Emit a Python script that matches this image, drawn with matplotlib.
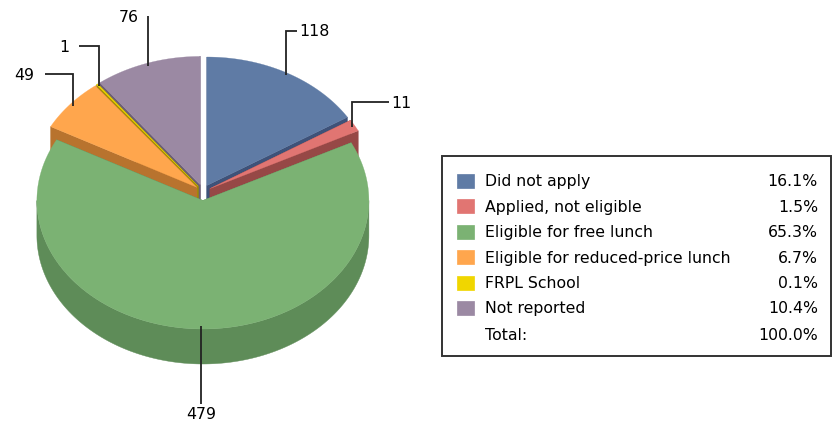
import numpy as np
import matplotlib
matplotlib.use("Agg")
import matplotlib.pyplot as plt
from matplotlib.patches import Polygon, Rectangle

# ---------------- data ----------------
categories = ["Did not apply", "Applied, not eligible", "Eligible for free lunch",
              "Eligible for reduced-price lunch", "FRPL School", "Not reported"]
values = [118, 11, 479, 49, 1, 76]
top_colors = ["#5F7BA5", "#E17572", "#7BB273", "#FFA64D", "#F0D600", "#9B89A3"]
side_colors = ["#3E5279", "#964846", "#5E8C58", "#B8732E", "#9E8D00", "#6C5E74"]

# ---------------- layout ----------------
W, H = 834, 427
CX, CY, RX, RY, DEPTH, EXPLODE = 203.0, 193.5, 166.0, 128.5, 35.0, 8.0
FONT = "DejaVu Sans"
FS = 11.3
LINE_C = "#222222"

# label layout: elbow y, horizontal length, side (+1 right, -1 left, 0 below)
label_elbow_y = [32, 103, 405, 75, 47, 17]
label_hlen = [11, 37, 0, 28, 20, 0]
label_side = [1, 1, 0, -1, -1, -1]

fig = plt.figure(figsize=(W / 100, H / 100), dpi=100)
ax = fig.add_axes([0, 0, 1, 1])
ax.set_xlim(0, W)
ax.set_ylim(H, 0)
ax.axis("off")

total = float(sum(values))
fr = np.array(values) / total
edges = np.concatenate([[0.0], np.cumsum(fr)]) * 2 * np.pi


def arc(cx, cy, t1, t2, dz=0.0, r=1.0):
    n = max(2, int(abs(t2 - t1) / (2 * np.pi) * 400) + 2)
    t = np.linspace(t1, t2, n)
    return np.column_stack([cx + r * RX * np.sin(t), cy - r * RY * np.cos(t) + dz])


def offset(i):
    m = (edges[i] + edges[i + 1]) / 2
    return CX + EXPLODE * np.sin(m), CY - EXPLODE * np.cos(m), m


order = sorted(range(len(values)), key=lambda i: -np.cos((edges[i] + edges[i + 1]) / 2))
z = 1
for i in order:
    t1, t2 = edges[i], edges[i + 1]
    cx, cy, m = offset(i)
    sc, tc = side_colors[i], top_colors[i]
    # radial walls
    for a in (t1, t2):
        px, py = cx + RX * np.sin(a), cy - RY * np.cos(a)
        ax.add_patch(Polygon([(cx, cy), (px, py), (px, py + DEPTH), (cx, cy + DEPTH)],
                             closed=True, facecolor=sc, edgecolor=sc, lw=0.3, zorder=z))
    # outer wall (front half only)
    lo, hi = max(t1, np.pi / 2), min(t2, 3 * np.pi / 2)
    if hi > lo:
        top = arc(cx, cy, lo, hi)
        bot = arc(cx, cy, lo, hi, DEPTH)[::-1]
        ax.add_patch(Polygon(np.vstack([top, bot]), closed=True, facecolor=sc,
                             edgecolor=sc, lw=0.3, zorder=z))
    # top surface
    pts = np.vstack([[cx, cy], arc(cx, cy, t1, t2)])
    ax.add_patch(Polygon(pts, closed=True, facecolor=tc, edgecolor=tc, lw=0.2, zorder=z + 0.5))
    z += 1

# ---------------- leader lines & labels ----------------
for i, v in enumerate(values):
    cx, cy, m = offset(i)
    r = 0.98
    axp = cx + r * RX * np.sin(m)
    ayp = cy - r * RY * np.cos(m)
    ey = label_elbow_y[i]
    side = label_side[i]
    if side == 0:
        ax.plot([axp, axp], [ayp, ey], color=LINE_C, lw=1.3, zorder=50, solid_capstyle="butt")
        ax.text(axp, ey + 2, str(v), ha="center", va="top", fontsize=FS, family=FONT, zorder=51)
    else:
        ex = axp + side * label_hlen[i]
        ax.plot([axp, axp, ex], [ayp, ey, ey], color=LINE_C, lw=1.3, zorder=50,
                solid_joinstyle="miter", solid_capstyle="butt")
        if side > 0:
            ax.text(ex + 3, ey, str(v), ha="left", va="center", fontsize=FS, family=FONT, zorder=51)
        else:
            ax.text(ex - 10, ey, str(v), ha="right", va="center", fontsize=FS, family=FONT, zorder=51)

# ---------------- legend ----------------
LX0, LY0, LX1, LY1 = 442, 157, 831, 357
ax.add_patch(Rectangle((LX0, LY0), LX1 - LX0, LY1 - LY0, facecolor="white",
                       edgecolor="#333333", lw=1.4, zorder=60))
row0, dy = 182, 25.4
for i, cat in enumerate(categories):
    y = row0 + i * dy
    ax.add_patch(Rectangle((457, y - 7), 17, 14, facecolor=top_colors[i],
                           edgecolor=top_colors[i], lw=0.5, zorder=61))
    ax.text(485, y, cat, ha="left", va="center", fontsize=FS, family=FONT, zorder=62)
    ax.text(818, y, f"{values[i] / total * 100:.1f}%", ha="right", va="center",
            fontsize=FS, family=FONT, zorder=62)
y = row0 + len(categories) * dy + 1
ax.text(485, y, "Total:", ha="left", va="center", fontsize=FS, family=FONT, zorder=62)
ax.text(818, y, f"{sum(values) / total * 100:.1f}%", ha="right", va="center",
        fontsize=FS, family=FONT, zorder=62)

fig.savefig("out.png", dpi=100)
